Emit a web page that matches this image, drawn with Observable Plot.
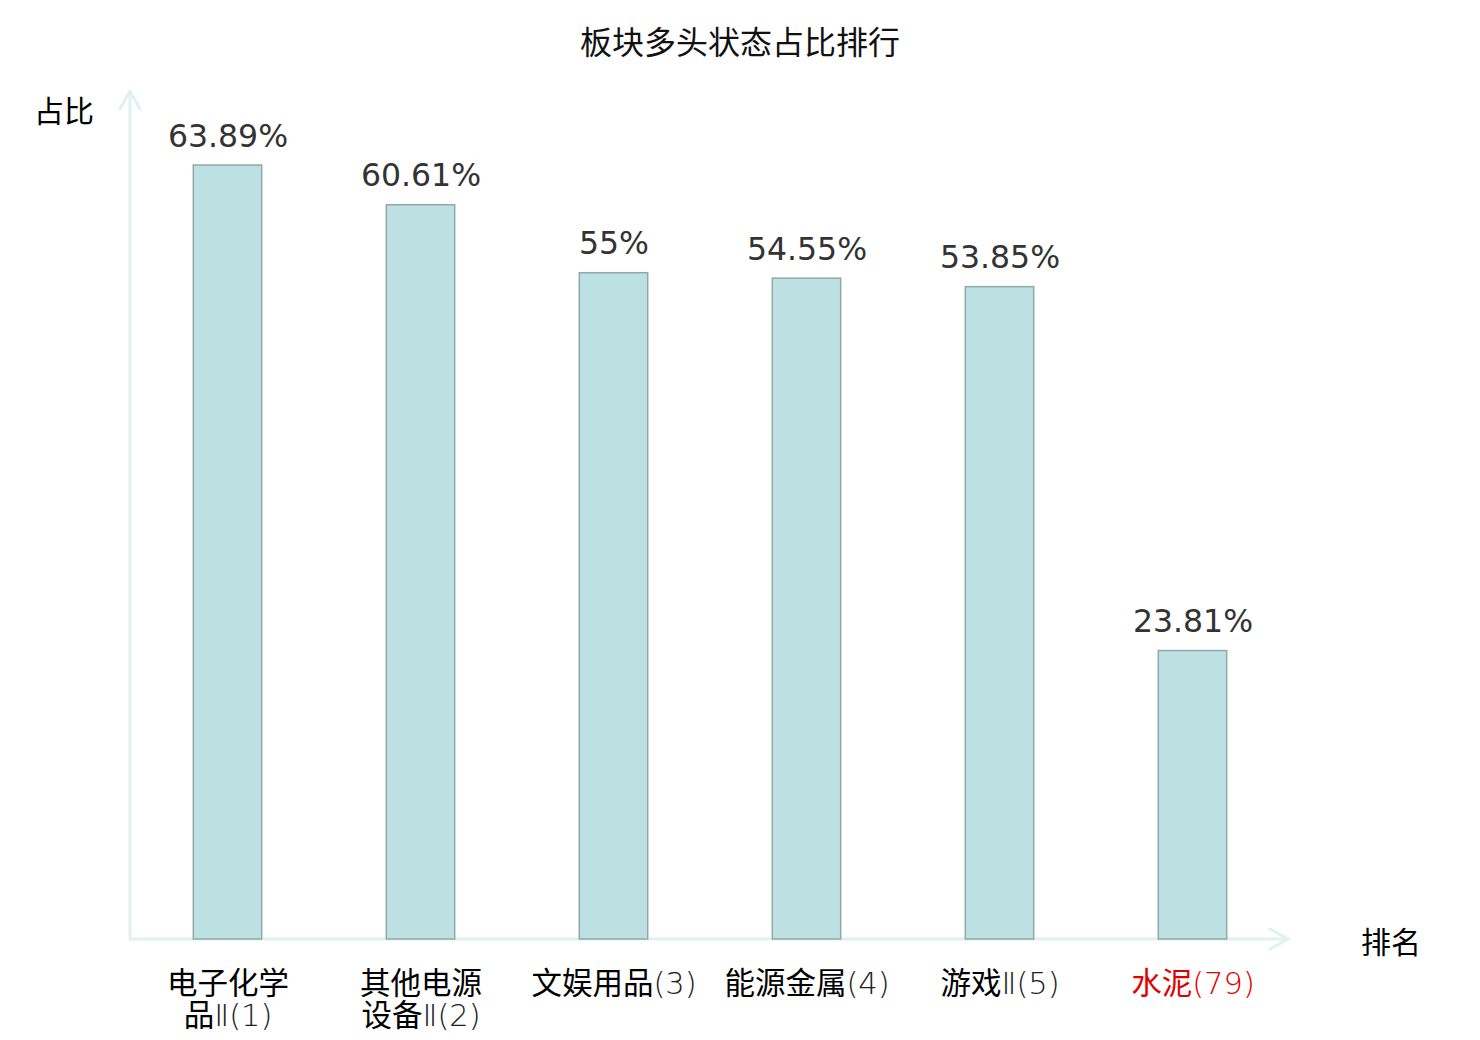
<!DOCTYPE html>
<html>
<head>
<meta charset="utf-8">
<script src="https://cdn.jsdelivr.net/npm/d3@7"></script>
<script src="https://cdn.jsdelivr.net/npm/@observablehq/plot@0.6"></script>
<style>
  html, body { margin: 0; padding: 0; background: #fff; }
  #wrap { position: relative; width: 1480px; height: 1040px; }
  #title { height: 80px; line-height: 80px; text-align: center; font-family: "Noto Sans CJK SC", sans-serif; font-size: 32px; color: #111; }
  .axlabel { position: absolute; font-family: "Noto Sans CJK SC", sans-serif; font-size: 30px; color: #000; line-height: 1; }
</style>
</head>
<body>
<div id="wrap">
  <div id="title">板块多头状态占比排行</div>
  <div class="axlabel" id="ylab" style="left:34px; top:94px;">占比</div>
  <div class="axlabel" id="xlab" style="left:1361px; top:925px;">排名</div>
  <div id="chart"></div>
</div>
<script>
const categories = ["电子化学\n品Ⅱ(1)", "其他电源\n设备Ⅱ(2)", "文娱用品(3)", "能源金属(4)", "游戏Ⅱ(5)", "水泥(79)"];
const values = [63.89, 60.61, 55, 54.55, 53.85, 23.81];
const highlighted = "水泥(79)";
const yDomain = [0, 70];

const data = categories.map((c, i) => ({ category: c, value: values[i] }));

const chart = Plot.plot({
  width: 1480,
  height: 960,
  marginTop: 11,
  marginBottom: 101,
  marginLeft: 130,
  marginRight: 190,
  x: { domain: categories, padding: 0, axis: null },
  y: { domain: yDomain, axis: null },
  marks: [
    Plot.barY(data, {
      x: "category", y: "value",
      fill: "#bde0e3", stroke: "#8fa9aa", strokeWidth: 1.5,
      insetLeft: 62.3, insetRight: 62.3
    }),
    Plot.text(data, {
      x: "category", y: "value",
      text: d => `${d.value}%`,
      lineAnchor: "bottom", dy: -19,
      fontSize: 31.5, fill: "#333", fontFamily: "DejaVu Sans"
    }),
    Plot.axisX({
      tickSize: 0, tickPadding: 32, fontSize: 30.5, lineHeight: 1.04,
      fontFamily: "Noto Sans CJK SC", fill: "#000", label: null
    })
  ]
});
document.getElementById("chart").appendChild(chart);

// axes lines with arrowheads computed from the Plot scales
const svg = d3.select(chart);
const xr = chart.scale("x").range;
const ys = chart.scale("y");
const X0 = xr[0], X1 = xr[1];
const Y0 = ys.apply(yDomain[0]), Y1 = ys.apply(yDomain[1]);
const axisColor = "#dff2ef";
const g = svg.insert("g", ":scope > g").attr("fill", "none").attr("stroke", axisColor).attr("stroke-width", 3).attr("stroke-linecap", "round").attr("stroke-linejoin", "round");
g.append("path").attr("d", `M${X0},${Y0}H${X1 - 2}`);
g.append("path").attr("d", `M${X1 - 20},${Y0 - 10}L${X1 - 2},${Y0}L${X1 - 20},${Y0 + 10}`);
g.append("path").attr("d", `M${X0},${Y0}V${Y1}`);
g.append("path").attr("d", `M${X0 - 10},${Y1 + 18}L${X0},${Y1}L${X0 + 10},${Y1 + 18}`);

// tick label styling: thin latin part, highlighted category in red
const NS = "http://www.w3.org/2000/svg";
svg.selectAll("[aria-label='x-axis tick label'] text").each(function () {
  const t = this;
  const full = t.textContent.replace(/\s/g, "");
  const isHi = full === highlighted.replace(/\s/g, "");
  const col = isHi ? "#e00000" : "#222";
  if (isHi) t.setAttribute("fill", "#e00000");
  const nodes = t.querySelectorAll("tspan").length ? Array.from(t.querySelectorAll("tspan")) : [t];
  nodes.forEach(n => {
    const s = n.textContent;
    const m = s.search(/[Ⅱ(]/);
    if (m >= 0) {
      const head = s.slice(0, m);
      const tail = s.slice(m);
      n.textContent = head;
      const sp = document.createElementNS(NS, "tspan");
      sp.setAttribute("font-family", "DejaVu Sans");
      sp.setAttribute("font-weight", "200");
      sp.setAttribute("fill", col);
      sp.textContent = tail;
      n.appendChild(sp);
    }
  });
});
</script>
</body>
</html>
